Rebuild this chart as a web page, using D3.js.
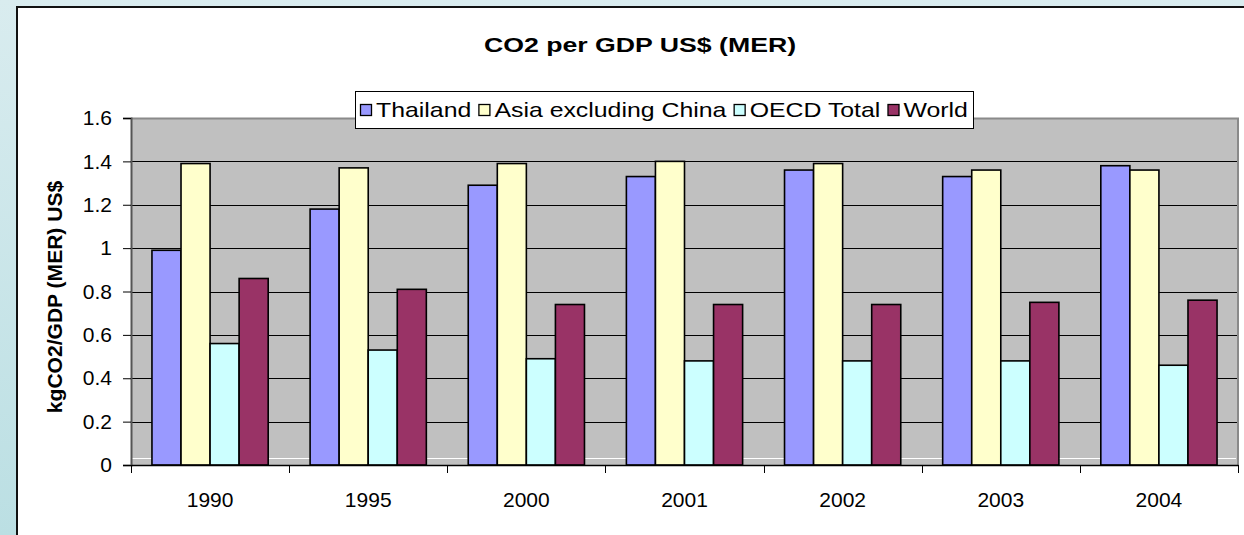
<!DOCTYPE html>
<html>
<head>
<meta charset="utf-8">
<script src="https://cdn.jsdelivr.net/npm/d3@7"></script>
<style>
  html, body { margin: 0; padding: 0; }
  body { width: 1244px; height: 535px; overflow: hidden; }
  text { font-family: Arial, "Liberation Sans", sans-serif; }
</style>
</head>
<body>
<svg id="chart" width="1244" height="535"></svg>
<script>
// Years on the category axis
const years = ["1990", "1995", "2000", "2001", "2002", "2003", "2004"];

// Series names and values (kgCO2 per GDP US$, MER)
const seriesNames = ["Thailand", "Asia excluding China", "OECD Total", "World"];
const thailand = [0.99, 1.18, 1.29, 1.33, 1.36, 1.33, 1.38];
const asiaExChina = [1.39, 1.37, 1.39, 1.40, 1.39, 1.36, 1.36];
const oecdTotal = [0.56, 0.53, 0.49, 0.48, 0.48, 0.48, 0.46];
const world = [0.86, 0.81, 0.74, 0.74, 0.74, 0.75, 0.76];

// Value axis ticks
const yTicks = [0, 0.2, 0.4, 0.6, 0.8, 1, 1.2, 1.4, 1.6];

const seriesValues = [thailand, asiaExChina, oecdTotal, world];
const colors = ["#9999ff", "#ffffcc", "#ccffff", "#993366"];
const FONT = "Arial, 'Liberation Sans', sans-serif";

const svg = d3.select("#chart");

// page background with a soft blue tint
const defs = svg.append("defs");
const grad = defs.append("linearGradient").attr("id", "bg").attr("x1", 0).attr("y1", 0).attr("x2", 0).attr("y2", 1);
grad.append("stop").attr("offset", "0%").attr("stop-color", "#d9ecef");
grad.append("stop").attr("offset", "100%").attr("stop-color", "#bbdfe3");
svg.append("rect").attr("width", 1244).attr("height", 535).attr("fill", "url(#bg)");

// white chart panel
svg.append("rect").attr("x", 17).attr("y", 7).attr("width", 1240).attr("height", 540)
  .attr("fill", "#ffffff").attr("stroke", "#111").attr("stroke-width", 2);

const plot = { left: 131, top: 118, right: 1238, bottom: 465 };

const x = d3.scaleBand().domain(years).range([plot.left, plot.right]).paddingInner(0).paddingOuter(0);
const y = d3.scaleLinear().domain([0, 1.6]).range([plot.bottom, plot.top]);
const groupWidth = x.bandwidth() * 0.735;
const xs = d3.scaleBand().domain(seriesNames).range([0, groupWidth]);
const groupOffset = (x.bandwidth() - groupWidth) / 2;

// plot area fill
svg.append("rect").attr("x", plot.left).attr("y", plot.top)
  .attr("width", plot.right - plot.left).attr("height", plot.bottom - plot.top)
  .attr("fill", "#c0c0c0");

// gridlines
svg.append("g").selectAll("line").data(yTicks.filter(t => t > 0 && t < 1.6)).join("line")
  .attr("x1", plot.left).attr("x2", plot.right)
  .attr("y1", d => Math.round(y(d)) + 0.5).attr("y2", d => Math.round(y(d)) + 0.5)
  .attr("stroke", "#000").attr("stroke-width", 1);

// thin light line just above the baseline
svg.append("line").attr("x1", plot.left).attr("x2", plot.right - 2)
  .attr("y1", Math.round(y(0.032)) + 0.5).attr("y2", Math.round(y(0.032)) + 0.5)
  .attr("stroke", "#ffffff").attr("stroke-width", 1);

// plot frame (top and right, grey)
svg.append("path")
  .attr("d", `M${plot.left},${plot.top + 0.5}H${plot.right}V${plot.bottom}`)
  .attr("fill", "none").attr("stroke", "#8a8a8a").attr("stroke-width", 2);

// bars
const groups = svg.append("g").selectAll("g").data(years).join("g")
  .attr("transform", d => `translate(${x(d) + groupOffset},0)`);
groups.selectAll("rect")
  .data((yr, i) => seriesNames.map((s, k) => ({ s, k, v: seriesValues[k][i] })))
  .join("rect")
  .attr("x", d => xs(d.s))
  .attr("width", xs.bandwidth())
  .attr("y", d => y(d.v))
  .attr("height", d => y(0) - y(d.v))
  .attr("fill", d => colors[d.k])
  .attr("stroke", "#000").attr("stroke-width", 1.6);

// Y axis
const yAxis = d3.axisLeft(y).tickValues(yTicks).tickFormat(d => d3.format("")(d)).tickSize(8).tickPadding(11);
const gy = svg.append("g").attr("transform", `translate(${plot.left},0)`).call(yAxis);
gy.select(".domain").attr("stroke", "#555").attr("stroke-width", 2);
gy.selectAll(".tick line").attr("stroke", "#000");
gy.selectAll(".tick text").attr("font-size", 21).attr("fill", "#000").attr("font-family", FONT);

// X axis
const xAxis = d3.axisBottom(x).tickSize(0).tickPadding(27);
const gx = svg.append("g").attr("transform", `translate(0,${plot.bottom})`).call(xAxis);
gx.select(".domain").attr("stroke", "#000").attr("stroke-width", 1.5);
gx.selectAll(".tick text").attr("font-size", 21).attr("fill", "#000").attr("font-family", FONT);
// category separators below the axis
svg.append("g").selectAll("line").data(years.concat(["end"])).join("line")
  .attr("x1", (d, i) => Math.round(plot.left + i * x.step()) + 0.5)
  .attr("x2", (d, i) => Math.round(plot.left + i * x.step()) + 0.5)
  .attr("y1", plot.bottom).attr("y2", plot.bottom + 8)
  .attr("stroke", "#000").attr("stroke-width", 1);

// title (drawn slightly widened, as in the stretched chart frame)
svg.append("text").attr("transform", "translate(640,52) scale(1.27,1)").attr("text-anchor", "middle")
  .attr("font-size", 21).attr("font-weight", "bold").text("CO2 per GDP US$ (MER)");

// y axis title
svg.append("text").attr("transform", "translate(62,297) rotate(-90) scale(1.08,1)").attr("text-anchor", "middle")
  .attr("font-size", 19.5).attr("font-weight", "bold").text("kgCO2/GDP (MER) US$");

// legend: entries laid out in one row, text widened to fill the box
const legendLeft = 355, legendTop = 91, legendW = 618, legendH = 37;
const legend = svg.append("g").attr("transform", `translate(${legendLeft},${legendTop})`);
legend.append("rect").attr("x", 0.5).attr("y", 0.5).attr("width", legendW).attr("height", legendH)
  .attr("fill", "#fff").attr("stroke", "#000").attr("stroke-width", 1);
const swatchGap = 16, itemGap = 7, edgePad = 5;
const labels = seriesNames.map(name => legend.append("text").attr("font-size", 20.5).text(name));
const natural = labels.map(t => t.node().getComputedTextLength());
const legendScale = (legendW - 2 * edgePad - seriesNames.length * swatchGap - (seriesNames.length - 1) * itemGap)
  / d3.sum(natural);
let cursor = edgePad;
seriesNames.forEach((name, i) => {
  legend.append("rect").attr("x", cursor + 0.5).attr("y", 13.5).attr("width", 11).attr("height", 11)
    .attr("fill", colors[i]).attr("stroke", "#000").attr("stroke-width", 1.3);
  labels[i].attr("transform", `translate(${cursor + swatchGap},26) scale(${legendScale},1)`);
  cursor += swatchGap + natural[i] * legendScale + itemGap;
});
</script>
</body>
</html>
